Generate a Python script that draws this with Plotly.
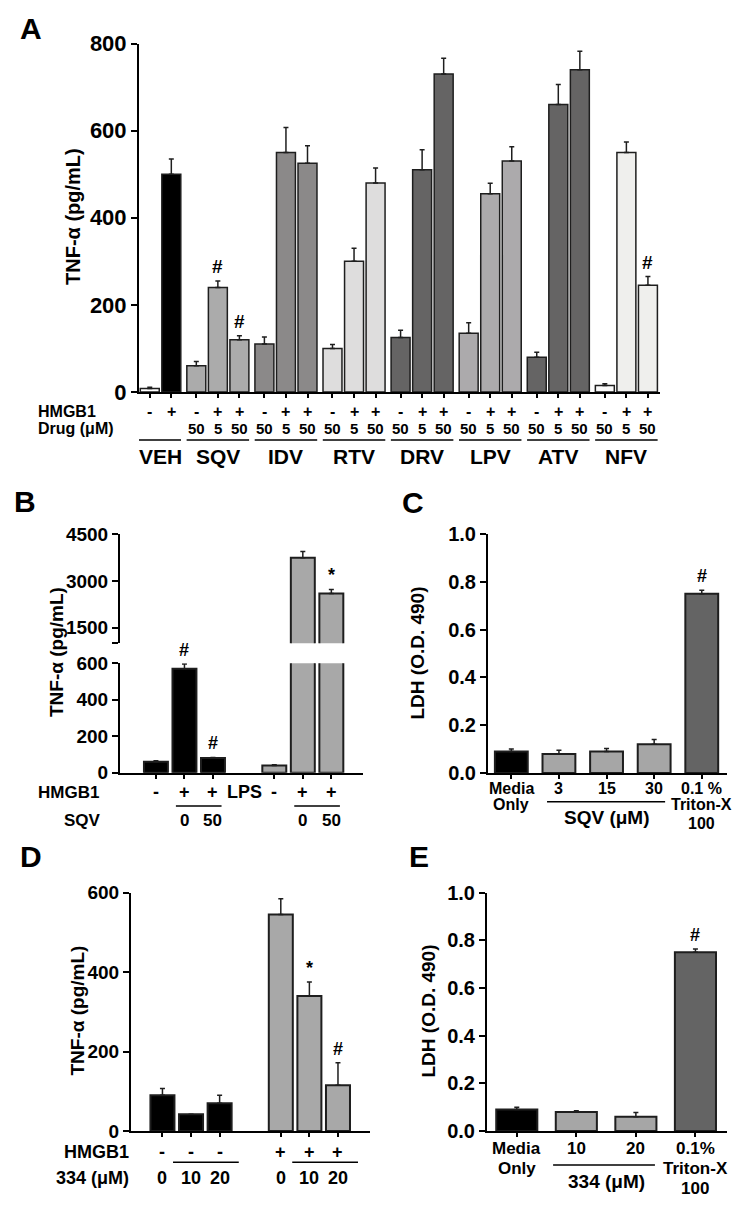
import plotly.graph_objects as go

W, H = 752, 1211
FONT = "Liberation Sans, Arial, Helvetica, sans-serif"

# ---------------- Panel A data ----------------
a_groups = ["VEH", "SQV", "IDV", "RTV", "DRV", "LPV", "ATV", "NFV"]
a_hmgb1 = [["-", "+"], ["-", "+", "+"], ["-", "+", "+"], ["-", "+", "+"],
           ["-", "+", "+"], ["-", "+", "+"], ["-", "+", "+"], ["-", "+", "+"]]
a_drug = [["", ""], ["50", "5", "50"], ["50", "5", "50"], ["50", "5", "50"],
          ["50", "5", "50"], ["50", "5", "50"], ["50", "5", "50"], ["50", "5", "50"]]
a_values = [[8, 500], [60, 240, 120], [110, 550, 525], [100, 300, 480],
            [125, 510, 730], [135, 455, 530], [80, 660, 740], [15, 550, 245]]
a_errors = [[3, 35], [10, 15, 9], [16, 57, 40], [9, 30, 34],
            [17, 46, 36], [24, 24, 33], [11, 46, 42], [4, 24, 20]]
a_sig = [["", ""], ["", "#", "#"], ["", "", ""], ["", "", ""],
         ["", "", ""], ["", "", ""], ["", "", ""], ["", "", "#"]]
a_yticks = [0, 200, 400, 600, 800]

# ---------------- Panel B data ----------------
b_hmgb1 = ["-", "+", "+", "-", "+", "+"]
b_sqv = ["", "0", "50", "", "0", "50"]
b_values = [60, 570, 80, 40, 3750, 2600]
b_errors = [5, 26, 4, 4, 200, 130]
b_sig = ["", "#", "#", "", "", "*"]
b_low_ticks = [0, 200, 400, 600]
b_high_ticks = [1500, 3000, 4500]

# ---------------- Panel C data ----------------
c_labels = [["Media", "Only"], ["3"], ["15"], ["30"], ["0.1 %", "Triton-X", "100"]]
c_values = [0.09, 0.08, 0.09, 0.12, 0.75]
c_errors = [0.01, 0.015, 0.013, 0.02, 0.015]
c_sig = ["", "", "", "", "#"]

# ---------------- Panel D data ----------------
d_hmgb1 = ["-", "-", "-", "+", "+", "+"]
d_conc = ["0", "10", "20", "0", "10", "20"]
d_values = [90, 42, 70, 545, 340, 115]
d_errors = [17, 0, 20, 40, 35, 57]
d_sig = ["", "", "", "", "*", "#"]
d_yticks = [0, 200, 400, 600]

# ---------------- Panel E data ----------------
e_labels = [["Media", "Only"], ["10"], ["20"], ["0.1%", "Triton-X", "100"]]
e_values = [0.09, 0.08, 0.06, 0.75]
e_errors = [0.01, 0.005, 0.018, 0.014]
e_sig = ["", "", "", "#"]
ldh_ticks = [0.0, 0.2, 0.4, 0.6, 0.8, 1.0]

# ---------------- styles ----------------
a_colors = [["#ffffff", "#000000"], ["#ababab"] * 3, ["#8b8989"] * 3, ["#dedddd"] * 3,
            ["#656464"] * 3, ["#acaaac"] * 3, ["#656464"] * 3, ["#fbfbfb", "#efefed", "#efefed"]]
b_colors = ["#000000"] * 3 + ["#a8a8a8"] * 3
c_colors = ["#000000", "#a6a6a6", "#a6a6a6", "#a6a6a6", "#646464"]
d_colors = ["#000000"] * 3 + ["#a8a8a8"] * 3
e_colors = ["#000000", "#a6a6a6", "#a6a6a6", "#646464"]
EDGE = "#1e1e1e"


def py(p):
    return 1 - p / H


def px(p):
    return p / W


fig = go.Figure()
anns = []
shapes = []


def txt(x, y, s, size, xref="paper", yref="paper", xanchor="center", yanchor="middle",
        angle=0, yshift=0, bold=True):
    anns.append(dict(x=x, y=y, xref=xref, yref=yref, text=s, showarrow=False,
                     textangle=angle, yshift=yshift, borderpad=0,
                     font=dict(family=FONT, size=size, color="black",
                               weight="bold" if bold else "normal"),
                     xanchor=xanchor, yanchor=yanchor))


def hline(x0, x1, y, xref):
    shapes.append(dict(type="line", xref=xref, yref="paper", x0=x0, x1=x1, y0=py(y), y1=py(y),
                       line=dict(color="black", width=1.5)))


def bar(x, y, err, colors, xa, ya, width, lw=1.5):
    fig.add_trace(go.Bar(
        x=x, y=y, width=width, xaxis=xa, yaxis=ya,
        marker=dict(color=colors, line=dict(color=EDGE, width=lw)),
        error_y=dict(type="data", array=err, arrayminus=[0] * len(err), symmetric=False,
                     color=EDGE, thickness=1.5, width=2.5),
        hoverinfo="skip"))


def sig(xs, tops, marks, xref, yref, size=18):
    for x, t, m in zip(xs, tops, marks):
        if m:
            txt(x, t, m, size, xref=xref, yref=yref, yanchor="bottom", yshift=3)


def yaxis(dom, rng, tickvals, anchor, size, ticktext=None, fmt=None):
    d = dict(domain=dom, range=rng, anchor=anchor, showline=True, linecolor="black",
             linewidth=2, ticks="outside", ticklen=6, tickwidth=2, tickcolor="black",
             tickvals=tickvals, showgrid=False, zeroline=False, fixedrange=True,
             automargin=False,
             tickfont=dict(family=FONT, size=size, color="black", weight="bold"))
    if ticktext is not None:
        d["ticktext"] = ticktext
    if fmt:
        d["tickformat"] = fmt
    return d


def xaxis(dom, rng, tickvals, anchor, visible=True):
    return dict(domain=dom, range=rng, anchor=anchor, showline=True, linecolor="black",
                linewidth=2, ticks="outside", ticklen=4, tickwidth=2, tickcolor="black",
                tickvals=tickvals, showticklabels=False, showgrid=False, zeroline=False,
                fixedrange=True, visible=visible, automargin=False)


# ================= Panel A =================
GP = 3.16
a_x, a_y, a_e, a_c, a_s, a_hm, a_dr = [], [], [], [], [], [], []
group_centers = []
group_spans = []
for g, vals in enumerate(a_values):
    n = len(vals)
    slots = list(range(3 - n, 3))
    xs = [g * GP + k for k in slots]
    a_x += xs
    a_y += vals
    a_e += a_errors[g]
    a_c += a_colors[g]
    a_s += a_sig[g]
    a_hm += a_hmgb1[g]
    a_dr += a_drug[g]
    group_centers.append(g * GP + 1 if n == 3 else (g * GP + 1.5))
    group_spans.append((xs[0] - 0.45 if n == 3 else 0.5, xs[-1] + 0.45))

bar(a_x, a_y, a_e, a_c, "x", "y", 0.88)
sig(a_x, [v + e for v, e in zip(a_y, a_e)], a_s, "x", "y", 19)

txt(px(37), py(412), "HMGB1", 16, xanchor="left")
txt(px(37), py(429), "Drug (μM)", 16, xanchor="left")
for x, s in zip(a_x, a_hm):
    txt(x, py(412), s, 16, xref="x")
for x, s in zip(a_x, a_dr):
    if s:
        txt(x, py(428.5), s, 15, xref="x")
for (x0, x1), c, name in zip(group_spans, group_centers, a_groups):
    hline(x0, x1, 440, "x")
    txt(c, py(456), name, 21, xref="x")

txt(px(73), py(217), "TNF-α (pg/mL)", 20, angle=-90)
txt(px(31), py(28.5), "A", 30)

# ================= Panel B =================
b_x = [k for k in range(3)] + [4.15 + k for k in range(3)]
LOW_MAX = 600
low_err = [e if v + e <= LOW_MAX else 0 for v, e in zip(b_values, b_errors)]
bar(b_x, b_values, low_err, b_colors, "x3", "y3", 0.84, lw=2)
hi = [i for i, v in enumerate(b_values) if v > LOW_MAX]
bar([b_x[i] for i in hi], [b_values[i] for i in hi], [b_errors[i] for i in hi],
    [b_colors[i] for i in hi], "x2", "y2", 0.84, lw=2)
for i, (v, e, m) in enumerate(zip(b_values, b_errors, b_sig)):
    if m:
        ya = "y2" if v > LOW_MAX else "y3"
        xa = "x2" if v > LOW_MAX else "x3"
        txt(b_x[i], v + e, m, 18, xref=xa, yref=ya, yanchor="bottom", yshift=3)

txt(px(37), py(792), "HMGB1", 17, xanchor="left")
txt(px(63), py(820), "SQV", 17, xanchor="left")
for x, s in zip(b_x, b_hmgb1):
    txt(x, py(792), s, 18, xref="x3")
txt(b_x[3] - 1.05, py(792), "LPS", 18, xref="x3")
for x, s in zip(b_x, b_sqv):
    if s:
        txt(x, py(820), s, 17, xref="x3")
hline(b_x[1] - 0.3, b_x[2] + 0.3, 806, "x3")
hline(b_x[4] - 0.3, b_x[5] + 0.3, 806, "x3")
txt(px(56), py(652), "TNF-α (pg/mL)", 19, angle=-90)
txt(px(25), py(502), "B", 30)

# ================= Panel C =================
c_x = list(range(len(c_values)))
bar(c_x, c_values, c_errors, c_colors, "x4", "y4", 0.69, lw=2)
sig(c_x, [v + e for v, e in zip(c_values, c_errors)], c_sig, "x4", "y4")
line_y = [788, 804, 823]
for x, lines in zip(c_x, c_labels):
    for j, s in enumerate(lines):
        txt(x, py(line_y[j]), s, 16, xref="x4")
hline(c_x[1] - 0.25, c_x[3] + 0.23, 801.7, "x4")
txt(c_x[2], py(817), "SQV (μM)", 19, xref="x4")
txt(px(417.5), py(653), "LDH (O.D. 490)", 19, angle=-90)
txt(px(413), py(502.5), "C", 30)

# ================= Panel D =================
d_x = [k for k in range(3)] + [4.14 + k for k in range(3)]
bar(d_x, d_values, d_errors, d_colors, "x5", "y5", 0.84, lw=2)
sig(d_x, [v + e for v, e in zip(d_values, d_errors)], d_sig, "x5", "y5")
txt(px(130), py(1151.7), "HMGB1", 18, xanchor="right")
txt(px(130), py(1178), "334 (μM)", 18, xanchor="right")
for x, s in zip(d_x, d_hmgb1):
    txt(x, py(1151.7), s, 18, xref="x5")
for x, s in zip(d_x, d_conc):
    txt(x, py(1178), s, 18, xref="x5")
hline(d_x[1] - 0.63, d_x[2] + 0.67, 1162.3, "x5")
hline(d_x[4] - 0.6, d_x[5] + 0.7, 1162.3, "x5")
txt(px(76.5), py(1011), "TNF-α (pg/mL)", 19, angle=-90)
txt(px(31), py(856), "D", 30)

# ================= Panel E =================
e_x = list(range(len(e_values)))
bar(e_x, e_values, e_errors, e_colors, "x6", "y6", 0.69, lw=2)
sig(e_x, [v + e for v, e in zip(e_values, e_errors)], e_sig, "x6", "y6")
e_line_y = [1148, 1168, 1188]
for x, lines in zip(e_x, e_labels):
    for j, s in enumerate(lines):
        txt(x, py(e_line_y[j]), s, 17, xref="x6")
hline(e_x[1] - 0.39, e_x[2] + 0.32, 1165, "x6")
txt((e_x[1] + e_x[2]) / 2, py(1181), "334 (μM)", 19, xref="x6")
txt(px(427.5), py(1011), "LDH (O.D. 490)", 19, angle=-90)
txt(px(419), py(856), "E", 30)

# ================= Layout =================
fig.update_layout(
    template="none",
    width=W, height=H, margin=dict(l=0, r=0, t=0, b=0, pad=0, autoexpand=False),
    paper_bgcolor="white", plot_bgcolor="white", showlegend=False,
    bargap=0,
    xaxis=xaxis([px(139), px(660)], [0.5, 24.68], a_x, "y"),
    yaxis=yaxis([py(392), py(43.5)], [0, 800], a_yticks, "x", 22),
    xaxis2=xaxis([px(120), px(363)], [-1.26, 7.26], b_x, "y2", visible=False),
    yaxis2=yaxis([py(643.3), py(534.3)], [1000, 4500], [1000] + b_high_ticks, "x2", 19,
                 ticktext=[""] + [str(t) for t in b_high_ticks]),
    xaxis3=xaxis([px(120), px(363)], [-1.26, 7.26], b_x, "y3"),
    yaxis3=yaxis([py(772.7), py(663.3)], [0, 600], b_low_ticks, "x3", 19),
    xaxis4=xaxis([px(488), px(727)], [-0.49, 4.53], c_x, "y4"),
    yaxis4=yaxis([py(773), py(534)], [0, 1], ldh_ticks, "x4", 20, fmt=".1f"),
    xaxis5=xaxis([px(131), px(370)], [-1.1, 7.26], d_x, "y5"),
    yaxis5=yaxis([py(1131), py(892.7)], [0, 600], d_yticks, "x5", 19),
    xaxis6=xaxis([px(487), px(727)], [-0.5, 3.53], e_x, "y6"),
    yaxis6=yaxis([py(1131), py(892.7)], [0, 1], ldh_ticks, "x6", 20, fmt=".1f"),
    annotations=anns, shapes=shapes,
)

fig.write_html("out.html", config={"displayModeBar": False, "staticPlot": True},
               post_script="document.body.style.margin='0px';")
